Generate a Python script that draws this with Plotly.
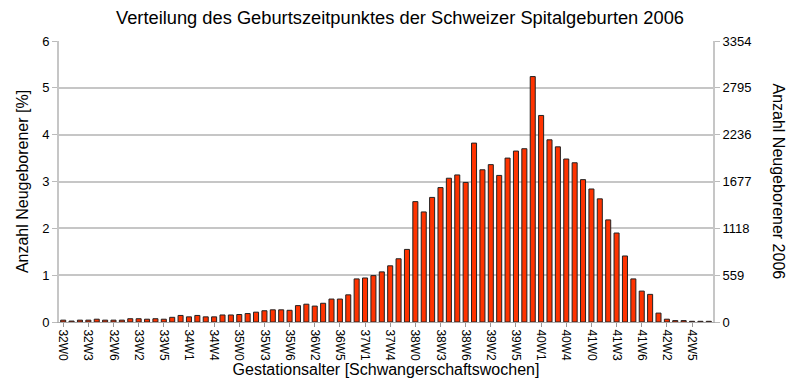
import plotly.graph_objects as go

weeks = list(range(32, 43))
categories = [f"{w}W{d}" for w in weeks for d in range(7)] + ["43W0"]

percent = [
    0.04, 0.02, 0.04, 0.04, 0.06, 0.04, 0.04, 0.04, 0.07, 0.07,
    0.06, 0.07, 0.06, 0.10, 0.14, 0.11, 0.14, 0.11, 0.11, 0.15,
    0.15, 0.16, 0.18, 0.21, 0.24, 0.26, 0.26, 0.25, 0.35, 0.38,
    0.34, 0.40, 0.49, 0.49, 0.58, 0.92, 0.94, 0.99, 1.07, 1.20,
    1.35, 1.55, 2.57, 2.35, 2.66, 2.87, 3.07, 3.14, 2.98, 3.82,
    3.25, 3.36, 3.13, 3.50, 3.65, 3.70, 5.24, 4.41, 3.89, 3.74,
    3.48, 3.40, 3.04, 2.84, 2.63, 2.18, 1.90, 1.41, 0.92, 0.66,
    0.59, 0.19, 0.06, 0.03, 0.03, 0.015, 0.015, 0.015,
]

tick_labels = categories[::3]
left_ticks = [0, 1, 2, 3, 4, 5, 6]
right_ticks = [0, 559, 1118, 1677, 2236, 2795, 3354]

FONT = "Liberation Sans, Arial, sans-serif"
GRID = "#c6c6c6"

fig = go.Figure()
fig.add_trace(go.Bar(
    x=categories, y=percent,
    marker=dict(color="#ff3300", line=dict(color="#222222", width=1)),
    hoverinfo="x+y",
))
fig.add_trace(go.Scatter(
    x=[categories[0]], y=[0], yaxis="y2", mode="markers",
    marker=dict(opacity=0), showlegend=False, hoverinfo="skip",
))

fig.update_layout(
    width=800, height=385,
    margin=dict(l=59, r=87, t=41, b=63, autoexpand=False),
    paper_bgcolor="white", plot_bgcolor="white",
    showlegend=False,
    bargap=0.4,
    font=dict(family=FONT, color="#000000"),
    title=dict(
        text="Verteilung des Geburtszeitpunktes der Schweizer Spitalgeburten 2006",
        x=0.5, xanchor="center", y=0.955, yanchor="middle",
        font=dict(size=18.3, family=FONT, color="#000"),
    ),
    xaxis=dict(
        type="category", automargin=False,
        tickmode="array", tickvals=tick_labels, ticktext=tick_labels,
        tickangle=90, tickfont=dict(size=12, family=FONT),
        ticks="outside", ticklen=4, tickcolor="#999999",
        showline=True, linecolor="#aaaaaa", linewidth=1,
        showgrid=False, zeroline=False,
        range=[-0.5, len(categories) - 0.5],
        title=dict(text="Gestationsalter [Schwangerschaftswochen]",
                   font=dict(size=16, family=FONT), standoff=3),
    ),
    yaxis=dict(
        range=[0, 6], tickvals=left_ticks, automargin=False,
        tickfont=dict(size=13, family=FONT),
        ticks="outside", ticklen=5, tickcolor="#bbbbbb",
        showline=True, linecolor="#c6c6c6", linewidth=2,
        showgrid=True, gridcolor=GRID, gridwidth=1.5,
        zeroline=False,
        title=dict(text="Anzahl Neugeborener [%]",
                   font=dict(size=16, family=FONT), standoff=10),
    ),
    yaxis2=dict(
        overlaying="y", side="right", automargin=False,
        range=[0, 3354], tickvals=right_ticks,
        tickfont=dict(size=13, family=FONT),
        ticks="outside", ticklen=5, tickcolor="#bbbbbb",
        showline=True, linecolor="#c6c6c6", linewidth=2,
        showgrid=False, zeroline=False,
    ),
    annotations=[dict(
        text="Anzahl Neugeborener 2006", textangle=90,
        xref="paper", yref="paper", x=1.0, y=0.5,
        xshift=65, xanchor="center", yanchor="middle",
        showarrow=False, font=dict(size=16, family=FONT, color="#000"),
    )],
)

fig.write_html("out.html", config={"displayModeBar": False},
               post_script="document.body.style.margin='0';")
